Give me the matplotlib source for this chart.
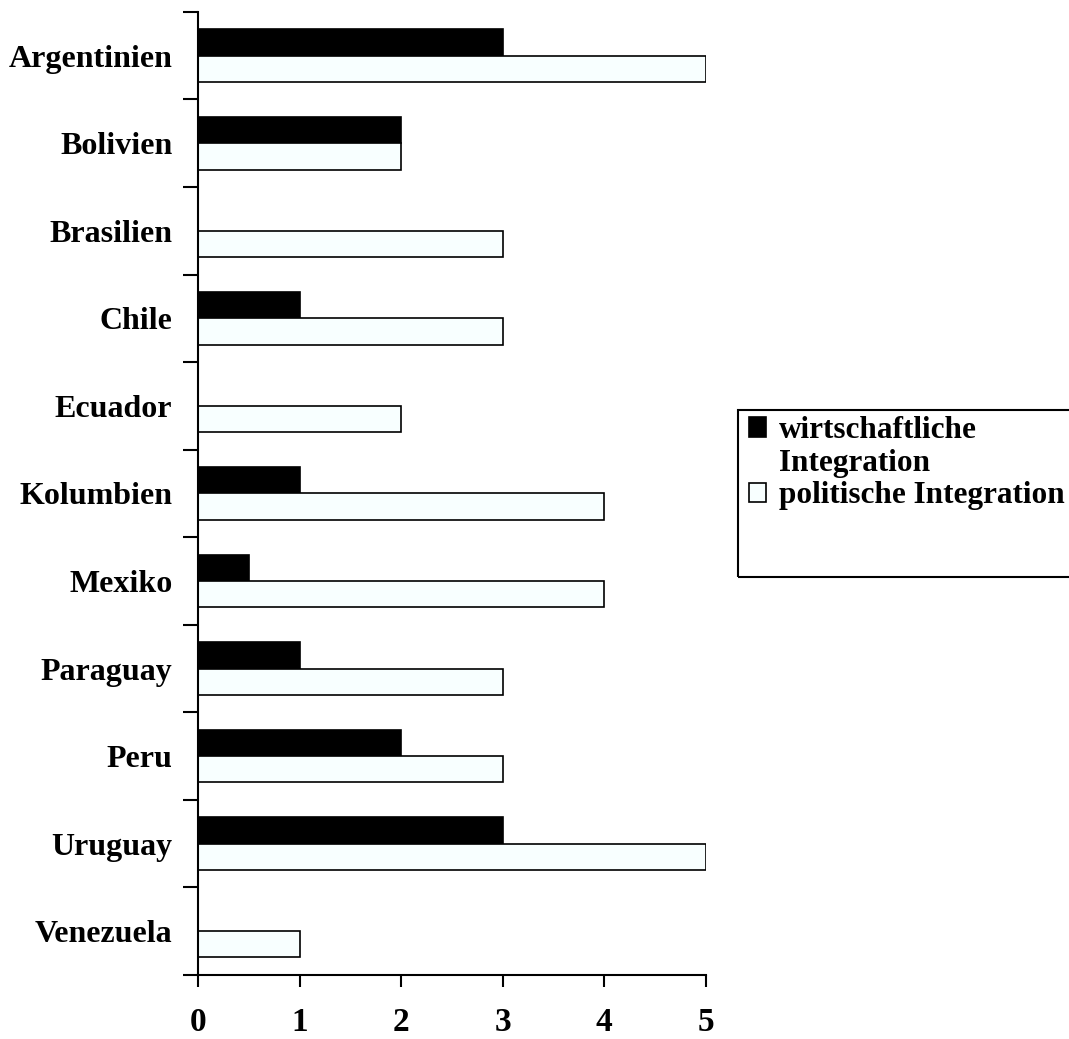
import matplotlib.pyplot as plt
import numpy as np
from matplotlib.patches import Rectangle, Patch

laender = ['Argentinien', 'Bolivien', 'Brasilien', 'Chile', 'Ecuador', 'Kolumbien',
           'Mexiko', 'Paraguay', 'Peru', 'Uruguay', 'Venezuela']
wirtschaftlich = [3, 2, 0, 1, 0, 1, 0.5, 1, 2, 3, 0]
politisch = [5, 2, 3, 3, 2, 4, 4, 3, 3, 5, 1]
x_ticks = [0, 1, 2, 3, 4, 5]
legend_zeilen = ['wirtschaftliche', 'Integration', 'politische Integration']

plt.rcParams['font.family'] = ['Liberation Serif', 'DejaVu Serif']
plt.rcParams['font.weight'] = 'bold'

fig = plt.figure(figsize=(10.69, 10.39), dpi=100)
ax = fig.add_axes([0.1852, 0.0616, 0.4752, 0.9269])

y = np.arange(len(laender))
h = 0.3
ax.barh(y - h / 2, wirtschaftlich, height=h, color='black', edgecolor='black',
        linewidth=1.2)
ax.barh(y + h / 2, politisch, height=h, color='#f8ffff', edgecolor='black',
        linewidth=1.2)

ax.set_ylim(len(laender) - 0.5, -0.5)
ax.set_xlim(0, 5)
ax.set_yticks(y)
ax.set_yticklabels(laender, fontsize=23, fontweight='bold')
ax.set_yticks(np.arange(-0.5, len(laender)), minor=True)
ax.tick_params(axis='y', which='major', length=0, pad=18.5)
ax.tick_params(axis='y', which='minor', length=11, width=1.5)
ax.set_xticks(x_ticks)
ax.set_xticklabels([str(t) for t in x_ticks], fontsize=24, fontweight='bold')
ax.tick_params(axis='x', length=8.5, width=1.5, pad=14.5)

for s in ['top', 'right']:
    ax.spines[s].set_visible(False)
for s in ['left', 'bottom']:
    ax.spines[s].set_linewidth(1.5)

# legend box
fig.patches.append(Rectangle((738 / 1069, 1 - 577 / 1039), 0.34, 167 / 1039,
                             transform=fig.transFigure, fill=False,
                             edgecolor='black', linewidth=1.5))
handles = [Patch(facecolor='black', edgecolor='black', linewidth=1.2),
           Patch(facecolor='none', edgecolor='none'),
           Patch(facecolor='#f8ffff', edgecolor='black', linewidth=1.2)]
leg = fig.legend(handles, legend_zeilen, loc='upper left',
                 bbox_to_anchor=(749 / 1069, 1 - 416 / 1039),
                 frameon=False, fontsize=22.5, handlelength=0.55, handleheight=0.6,
                 handletextpad=0.4, labelspacing=0.12, borderpad=0, borderaxespad=0)
for t in leg.get_texts():
    t.set_fontweight('bold')

fig.savefig('out.png', dpi=100)
